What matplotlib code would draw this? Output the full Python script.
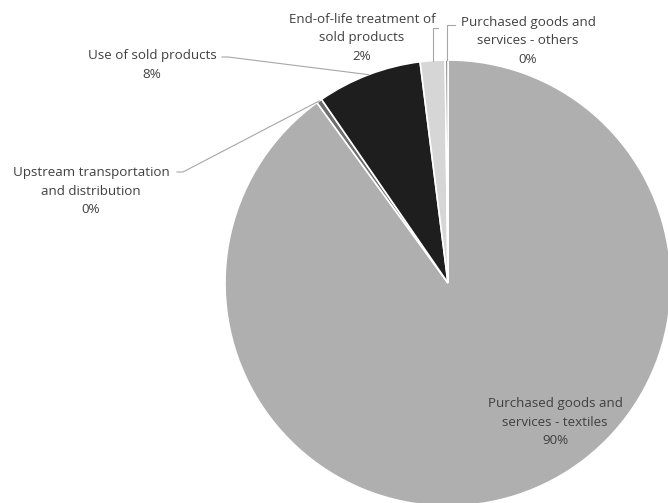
import matplotlib.pyplot as plt
import numpy as np

# Emission shares by scope 3 category (percent)
categories = [
    'Purchased goods and\nservices - textiles',
    'Upstream transportation\nand distribution',
    'Use of sold products',
    'End-of-life treatment of\nsold products',
    'Purchased goods and\nservices - others',
]
shares = [90.0, 0.4, 7.6, 1.8, 0.2]
colors = ['#afafaf', '#6e6e6e', '#1e1e1e', '#d6d6d6', '#8c8c8c']

W, H = 668, 503
plt.rcParams['font.family'] = ['Open Sans', 'DejaVu Sans']
text_color = '#404040'


# Pixel position (from top-left) -> figure fraction
def fpos(x, y):
    return x / W, 1 - y / H


fig = plt.figure(figsize=(W / 100, H / 100), dpi=100)
ax = fig.add_axes([225 / W, (H - 506) / H, 446 / W, 446 / H])
wedges, _ = ax.pie(shares, colors=colors, startangle=90, counterclock=False,
                   wedgeprops=dict(edgecolor='white', linewidth=1.2))
ax.set_xlim(-1, 1)
ax.set_ylim(-1, 1)
ax.set_aspect('equal')
ax.axis('off')


# Outer edge point at the middle of a wedge, in figure fraction
def anchor(w):
    t = np.deg2rad((w.theta1 + w.theta2) / 2)
    p = ax.transData.transform((np.cos(t), np.sin(t)))
    return fig.transFigure.inverted().transform(p)


# label centre (px) and leader line start points (px, from label side)
layout = [
    ((555, 422), None),
    ((91, 191), [(177, 172), (183, 172)]),
    ((152, 65), [(222, 57), (228, 57)]),
    ((362, 38), [(438, 28)]),
    ((528, 41), [(455, 25)]),
]

fig.canvas.draw()
for w, name, val, (pos, lead) in zip(wedges, categories, shares, layout):
    label = f'{name}\n{round(val)}%'
    fig.text(*fpos(*pos), label, ha='center', va='center', fontsize=9.6,
             color=text_color, linespacing=1.55)
    if lead is None:
        continue
    ax_pt = anchor(w)
    pts = [fpos(*p) for p in lead]
    if len(lead) == 1:
        # vertical drop straight down to the slice
        pts.append((ax_pt[0], pts[0][1]))
    pts.append(tuple(ax_pt))
    xs, ys = zip(*pts)
    fig.add_artist(plt.Line2D(xs, ys, transform=fig.transFigure,
                              color='#a6a6a6', linewidth=0.8))

fig.savefig('out.png', dpi=100, facecolor='white')
